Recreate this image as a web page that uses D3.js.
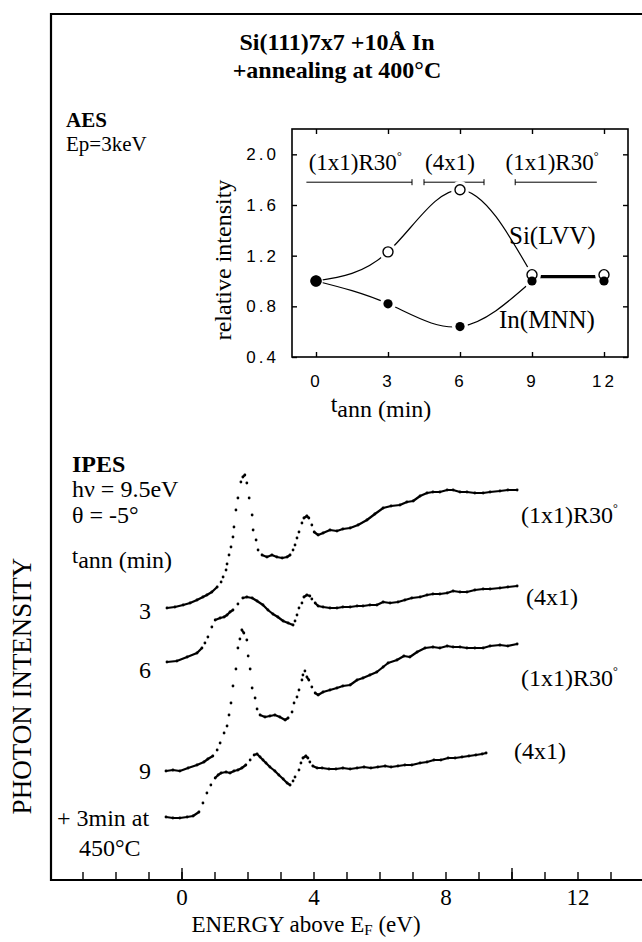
<!DOCTYPE html>
<html>
<head>
	<meta charset="utf-8">
	<script src="https://cdnjs.cloudflare.com/ajax/libs/d3/7.8.5/d3.min.js"></script>
	<style>
	body {
		margin: 0;
		background: #fff;
	}
	svg {
		display: block;
	}
	text {
		font-family: "Liberation Serif", "Times New Roman", serif;
	}
	.frame, .box {
		fill: none;
		stroke: #000;
	}
	.axis path {
		display: none;
	}
	.axis line {
		stroke: #000;
		stroke-width: 1.4px;
	}
	.aes-tick text {
		font-family: "Liberation Sans", Arial, sans-serif;
		font-size: 17px;
		letter-spacing: 3px;
	}
	.spec-line {
		fill: none;
		stroke: #000;
		stroke-width: 2.2px;
		stroke-linecap: round;
		stroke-linejoin: round;
	}
	</style>
</head>
<body>
	<svg width="642" height="942"></svg>
	<script>
	// ---------- AES inset data ----------
	let tann = [0, 3, 6, 9, 12];
	let siLVV = [1.0, 1.23, 1.72, 1.05, 1.05];
	let inMNN = [1.0, 0.82, 0.64, 1.0, 1.0];
	let aesYTicks = [0.4, 0.8, 1.2, 1.6, 2.0];
	let aesXTicks = [0, 3, 6, 9, 12];
	let phaseLabels = ["(1x1)R30", "(4x1)", "(1x1)R30"];
	let phaseFrom = [-0.4, 4.5, 8.3];
	let phaseTo = [4.0, 7.0, 11.7];
	let phaseLevel = 1.78;

	// ---------- IPES spectra (energy eV, intensity arb. units incl. offset) ----------
	let spec3 = [[-0.44,27.2],[-0.20,27.3],[0.05,27.5],[0.26,27.7],[0.47,28.0],[0.65,28.3],[0.77,28.5],[0.92,28.8],[1.08,29.3],[1.20,29.8],[1.26,30.3],[1.35,31.0],[1.38,31.6],[1.44,32.5],[1.50,33.3],[1.56,34.3],[1.59,35.3],[1.65,37.0],[1.71,38.2],[1.80,39.8],[1.86,40.3],[1.92,40.5],[1.98,39.7],[2.05,38.2],[2.14,36.5],[2.17,35.0],[2.26,34.0],[2.32,33.0],[2.44,32.5],[2.59,32.3],[2.74,32.5],[2.89,32.3],[3.05,32.2],[3.20,32.3],[3.29,32.5],[3.38,33.0],[3.44,33.5],[3.50,34.2],[3.56,34.8],[3.65,35.7],[3.71,36.2],[3.80,36.4],[3.86,36.2],[3.95,35.5],[4.02,34.8],[4.14,34.5],[4.29,34.7],[4.50,35.0],[4.71,34.9],[4.89,35.1],[5.11,35.2],[5.35,35.5],[5.62,36.0],[5.86,36.6],[6.11,37.2],[6.35,37.4],[6.62,37.5],[6.83,37.8],[7.02,37.9],[7.23,38.4],[7.44,38.7],[7.62,38.8],[7.83,38.8],[8.05,39.0],[8.23,39.0],[8.44,38.8],[8.65,38.8],[8.89,38.7],[9.14,38.7],[9.35,38.8],[9.65,38.9],[9.89,39.0],[10.17,39.0]];
	let spec6 = [[-0.44,21.8],[-0.14,21.9],[0.17,22.3],[0.47,22.7],[0.62,23.2],[0.71,23.7],[0.80,24.3],[0.92,25.3],[1.02,26.0],[1.17,26.2],[1.29,26.3],[1.38,26.5],[1.47,26.8],[1.56,27.0],[1.71,27.6],[1.86,28.2],[1.98,28.3],[2.14,28.2],[2.29,27.9],[2.47,27.5],[2.62,27.0],[2.77,26.6],[2.92,26.3],[3.08,25.9],[3.23,25.7],[3.38,25.5],[3.44,25.9],[3.50,26.5],[3.56,27.2],[3.65,27.7],[3.71,28.3],[3.80,28.5],[3.89,28.4],[3.95,28.1],[4.05,27.7],[4.14,27.4],[4.29,27.3],[4.50,27.2],[4.71,27.2],[4.89,27.3],[5.11,27.3],[5.32,27.4],[5.50,27.4],[5.71,27.5],[5.92,27.5],[6.11,27.8],[6.32,27.7],[6.56,27.8],[6.77,28.0],[6.98,28.2],[7.23,28.3],[7.44,28.5],[7.62,28.6],[7.83,28.6],[8.05,28.7],[8.23,28.9],[8.44,28.8],[8.65,28.8],[8.89,29.0],[9.14,29.1],[9.35,29.1],[9.65,29.2],[9.89,29.3],[10.17,29.4]];
	let spec9 = [[-0.47,10.9],[-0.26,11.0],[-0.05,10.9],[0.20,11.2],[0.47,11.5],[0.68,11.8],[0.80,12.1],[0.95,12.4],[1.08,13.0],[1.17,13.7],[1.29,14.7],[1.38,15.4],[1.44,16.5],[1.50,17.7],[1.56,19.4],[1.65,21.1],[1.71,23.2],[1.77,24.1],[1.83,25.0],[1.89,24.7],[1.98,24.0],[2.02,22.4],[2.08,21.1],[2.14,19.2],[2.23,18.2],[2.29,17.1],[2.38,16.5],[2.53,16.3],[2.68,16.4],[2.83,16.5],[2.98,16.3],[3.14,16.0],[3.23,16.2],[3.35,16.8],[3.41,17.7],[3.50,18.3],[3.56,19.0],[3.65,20.0],[3.68,20.5],[3.74,20.9],[3.80,20.3],[3.86,20.0],[3.95,19.3],[4.05,18.7],[4.14,18.5],[4.29,18.8],[4.50,19.0],[4.71,19.2],[4.89,19.4],[5.11,19.5],[5.32,20.0],[5.50,20.2],[5.71,20.5],[5.92,20.8],[6.11,21.3],[6.26,21.7],[6.53,22.0],[6.74,22.4],[6.92,22.3],[7.14,22.8],[7.38,23.2],[7.62,23.3],[7.83,23.2],[8.05,23.4],[8.23,23.3],[8.44,23.3],[8.65,23.2],[8.89,23.2],[9.14,23.2],[9.35,23.4],[9.65,23.5],[9.89,23.4],[10.17,23.6]];
	let spec450 = [[-0.47,6.3],[-0.26,6.2],[-0.05,6.2],[0.17,6.3],[0.35,6.4],[0.53,6.8],[0.65,7.7],[0.77,8.7],[0.89,9.5],[1.02,10.2],[1.11,10.5],[1.20,10.7],[1.35,10.8],[1.47,10.7],[1.59,10.9],[1.71,11.0],[1.83,11.2],[1.95,11.5],[2.08,12.0],[2.20,12.5],[2.29,12.6],[2.38,12.3],[2.47,12.0],[2.56,11.7],[2.68,11.3],[2.83,10.9],[2.95,10.5],[3.08,10.1],[3.20,9.7],[3.29,9.5],[3.38,9.9],[3.44,10.3],[3.56,11.0],[3.62,11.7],[3.68,12.2],[3.77,12.4],[3.83,12.2],[3.89,11.8],[3.98,11.4],[4.11,11.2],[4.26,11.2],[4.47,11.1],[4.68,11.1],[4.89,11.2],[5.11,11.1],[5.32,11.2],[5.53,11.3],[5.74,11.2],[5.95,11.3],[6.17,11.4],[6.35,11.3],[6.56,11.4],[6.77,11.5],[6.98,11.5],[7.23,11.7],[7.44,11.8],[7.65,12.0],[7.86,12.0],[8.08,12.2],[8.29,12.2],[8.50,12.3],[8.71,12.4],[8.92,12.5],[9.11,12.6],[9.23,12.7]];
	let spectra = [spec3, spec6, spec9, spec450];
	let specStructure = ["(1x1)R30", "(4x1)", "(1x1)R30", "(4x1)"];
	let energyTicks = [-3, -2, -1, 0, 1, 2, 3, 4, 5, 6, 7, 8, 9, 10, 11, 12, 13];
	let energyLongTicks = [0, 10];
	let energyLabels = [0, 4, 8, 12];

	// ---------- layout ----------
	let svg = d3.select("svg");
	let frame = {left: 51, top: 14, right: 645, bottom: 880};
	let inset = {left: 292, top: 129, right: 628, bottom: 357};

	svg.append("rect").attr("width", 642).attr("height", 942).attr("fill", "#fff");

	// title
	let title = svg.append("g")
		.attr("text-anchor", "middle")
		.style("font-weight", "bold")
		.style("font-size", "24px");
	title.append("text").attr("x", 337).attr("y", 50).text("Si(111)7x7 +10Å In");
	title.append("text").attr("x", 337).attr("y", 78).text("+annealing at 400°C");

	// outer frame
	svg.append("path")
		.attr("class", "frame")
		.attr("stroke-width", 2.2)
		.attr("d", "M" + frame.right + "," + frame.top + "H" + frame.left + "V" + frame.bottom + "H" + frame.right);

	// ================= AES inset =================
	let ax = d3.scaleLinear().domain([-1, 13]).range([inset.left, inset.right]);
	let ay = d3.scaleLinear().domain([0.4, 2.2]).range([inset.bottom, inset.top]);

	svg.append("text").attr("x", 66).attr("y", 127)
		.style("font-weight", "bold").style("font-size", "21px").text("AES");
	svg.append("text").attr("x", 66).attr("y", 151)
		.style("font-size", "21px").text("Ep=3keV");

	svg.append("rect")
		.attr("class", "box")
		.attr("stroke-width", 1.6)
		.attr("x", inset.left).attr("y", inset.top)
		.attr("width", inset.right - inset.left)
		.attr("height", inset.bottom - inset.top);

	// ticks on all four sides, pointing inwards
	svg.append("g")
		.attr("class", "axis aes-tick")
		.attr("transform", "translate(0," + inset.bottom + ")")
		.call(d3.axisBottom(ax).tickValues(aesXTicks).tickSize(-5).tickPadding(18));
	svg.append("g")
		.attr("class", "axis")
		.attr("transform", "translate(0," + inset.top + ")")
		.call(d3.axisTop(ax).tickValues(aesXTicks).tickSize(-5).tickFormat(""));
	svg.append("g")
		.attr("class", "axis aes-tick")
		.attr("transform", "translate(" + inset.left + ",0)")
		.call(d3.axisLeft(ay).tickValues(aesYTicks).tickSize(-5).tickPadding(13).tickFormat(d3.format(".1f")));
	svg.append("g")
		.attr("class", "axis")
		.attr("transform", "translate(" + inset.right + ",0)")
		.call(d3.axisRight(ay).tickValues(aesYTicks).tickSize(-5).tickFormat(""));

	// axis titles
	svg.append("text")
		.attr("transform", "translate(231,260) rotate(-90)")
		.attr("text-anchor", "middle")
		.style("font-size", "24px")
		.text("relative  intensity");
	let tl = svg.append("text")
		.attr("x", 381).attr("y", 417)
		.attr("text-anchor", "middle")
		.style("font-size", "24px");
	tl.append("tspan").attr("dy", -5).text("t");
	tl.append("tspan").attr("dy", 5).text("ann (min)");

	// reconstruction phases
	let phases = svg.append("g").selectAll("g")
		.data(phaseLabels)
		.enter().append("g");
	phases.append("line")
		.attr("x1", function(d, i) { return ax(phaseFrom[i]); })
		.attr("x2", function(d, i) { return ax(phaseTo[i]); })
		.attr("y1", ay(phaseLevel)).attr("y2", ay(phaseLevel))
		.attr("stroke", "#000").attr("stroke-width", 1);
	phases.filter(function(d, i) { return i > 0; }).append("line")
		.attr("x1", function(d, i) { return ax(phaseFrom[i + 1]); })
		.attr("x2", function(d, i) { return ax(phaseFrom[i + 1]); })
		.attr("y1", ay(phaseLevel) - 3).attr("y2", ay(phaseLevel) + 3)
		.attr("stroke", "#000").attr("stroke-width", 1);
	phases.filter(function(d, i) { return i < 2; }).append("line")
		.attr("x1", function(d, i) { return ax(phaseTo[i]); })
		.attr("x2", function(d, i) { return ax(phaseTo[i]); })
		.attr("y1", ay(phaseLevel) - 3).attr("y2", ay(phaseLevel) + 3)
		.attr("stroke", "#000").attr("stroke-width", 1);
	let phaseText = phases.append("text")
		.attr("x", function(d, i) { return ax((phaseFrom[i] + phaseTo[i]) / 2) - 4; })
		.attr("y", ay(phaseLevel) - 12)
		.attr("text-anchor", "middle")
		.style("font-size", "23px");
	phaseText.append("tspan").text(function(d) { return d; });
	phaseText.filter(function(d) { return d.indexOf("R30") >= 0; })
		.append("tspan").attr("dy", -10).style("font-size", "12px").text("°");

	// curves
	let curvePts = function(vals) { return tann.slice(0, 4).map(function(t, i) { return [ax(t), ay(vals[i])]; }); };
	let aesLine = d3.line().curve(d3.curveNatural);
	svg.append("path").attr("d", aesLine(curvePts(siLVV)))
		.attr("fill", "none").attr("stroke", "#000").attr("stroke-width", 1.2);
	svg.append("path").attr("d", aesLine(curvePts(inMNN)))
		.attr("fill", "none").attr("stroke", "#000").attr("stroke-width", 1.2);
	svg.append("line")
		.attr("x1", ax(tann[3])).attr("x2", ax(tann[4]))
		.attr("y1", ay(siLVV[3]) + 2).attr("y2", ay(siLVV[4]) + 2)
		.attr("stroke", "#000").attr("stroke-width", 3.2);

	// white halo so the lines stop short of the markers
	let halo = svg.append("g").attr("fill", "#fff");
	halo.selectAll(".hs").data(siLVV).enter().append("circle")
		.attr("cx", function(d, i) { return ax(tann[i]); })
		.attr("cy", function(d) { return ay(d); })
		.attr("r", function(d, i) { return i === 0 ? 0 : 9; });
	halo.selectAll(".hi").data(inMNN).enter().append("circle")
		.attr("cx", function(d, i) { return ax(tann[i]); })
		.attr("cy", function(d) { return ay(d); })
		.attr("r", function(d, i) { return i === 0 ? 7 : 8; });

	svg.append("g").selectAll("circle").data(siLVV).enter().append("circle")
		.attr("cx", function(d, i) { return ax(tann[i]); })
		.attr("cy", function(d) { return ay(d); })
		.attr("r", 5)
		.attr("fill", "#fff").attr("stroke", "#000").attr("stroke-width", 1.4);
	svg.append("g").selectAll("circle").data(inMNN).enter().append("circle")
		.attr("cx", function(d, i) { return ax(tann[i]); })
		.attr("cy", function(d) { return ay(d); })
		.attr("r", function(d, i) { return i === 0 ? 5.5 : 4.6; })
		.attr("fill", "#000");

	svg.append("text").attr("x", 509).attr("y", 244).style("font-size", "25px").text("Si(LVV)");
	svg.append("text").attr("x", 499).attr("y", 328).style("font-size", "25px").text("In(MNN)");

	// ================= IPES spectra =================
	let x = d3.scaleLinear().domain([0, 12]).range([181.5, 577.5]);
	let y = d3.scaleLinear().domain([0, 86.6]).range([frame.bottom, frame.top]);

	svg.append("g")
		.attr("class", "axis")
		.attr("transform", "translate(0," + frame.bottom + ")")
		.call(d3.axisBottom(x).tickValues(energyTicks).tickSize(-8).tickFormat(""));
	svg.append("g")
		.attr("class", "axis")
		.attr("transform", "translate(0," + frame.bottom + ")")
		.call(d3.axisBottom(x).tickValues(energyLongTicks).tickSize(-12).tickFormat(""));
	svg.append("g")
		.attr("class", "axis")
		.attr("transform", "translate(0," + frame.bottom + ")")
		.call(d3.axisBottom(x).tickValues(energyLabels).tickSize(0).tickPadding(9))
		.selectAll("text")
		.style("font-size", "23px");

	let xt = svg.append("text")
		.attr("x", 306).attr("y", 932)
		.attr("text-anchor", "middle")
		.style("font-size", "23px");
	xt.append("tspan").text("ENERGY above E");
	xt.append("tspan").attr("dy", 3).style("font-size", "15px").text("F");
	xt.append("tspan").attr("dy", -3).text("  (eV)");

	svg.append("text")
		.attr("transform", "translate(31,686) rotate(-90)")
		.attr("text-anchor", "middle")
		.style("font-size", "27px")
		.text("PHOTON INTENSITY");

	// left annotations
	let ipes = svg.append("g").style("font-size", "24px");
	ipes.append("text").attr("x", 72).attr("y", 472).style("font-weight", "bold").text("IPES");
	ipes.append("text").attr("x", 72).attr("y", 497).text("hν = 9.5eV");
	ipes.append("text").attr("x", 72).attr("y", 523).text("θ = -5°");
	let tm = ipes.append("text").attr("x", 72).attr("y", 568);
	tm.append("tspan").attr("dy", -5).style("font-size", "22px").text("t");
	tm.append("tspan").attr("dy", 5).text("ann (min)");

	let leftLabels = [["3"], ["6"], ["9"], ["+ 3min at", "450°C"]];
	let leftPos = [[151, 619, "end"], [151, 678, "end"], [151, 779, "end"], [57, 826, "start"]];
	leftLabels.forEach(function(lines, i) {
		lines.forEach(function(s, j) {
			ipes.append("text")
				.attr("x", leftPos[i][0] + j * 22)
				.attr("y", leftPos[i][1] + j * 30)
				.attr("text-anchor", leftPos[i][2])
				.text(s);
		});
	});

	// right annotations
	let rightPos = [[521, 523], [526, 605], [521, 686], [514, 759]];
	specStructure.forEach(function(s, i) {
		let t = svg.append("text")
			.attr("x", rightPos[i][0]).attr("y", rightPos[i][1])
			.style("font-size", "24px");
		t.append("tspan").text(s);
		if (s.indexOf("R30") >= 0) {
			t.append("tspan").attr("dy", -11).style("font-size", "12px").text("°");
		}
	});

	// spectra: gentle stretches are joined, steep stretches stay as separate dots
	let specLine = d3.line().x(function(d) { return x(d[0]); }).y(function(d) { return y(d[1]); });
	let joined = function(a, b) {
		let dx = Math.abs(x(b[0]) - x(a[0])), dy = Math.abs(y(b[1]) - y(a[1]));
		return dy <= 3 || dy <= 1.1 * dx;
	};
	spectra.forEach(function(spec) {
		let segs = [], cur = [spec[0]];
		for (let i = 1; i < spec.length; i++) {
			if (!joined(spec[i - 1], spec[i])) {
				segs.push(cur);
				cur = [];
			}
			cur.push(spec[i]);
		}
		segs.push(cur);
		let g = svg.append("g");
		g.selectAll("path").data(segs.filter(function(s) { return s.length > 1; }))
			.enter().append("path")
			.attr("class", "spec-line")
			.attr("d", specLine);
		g.selectAll("circle").data(spec).enter().append("circle")
			.attr("cx", function(d) { return x(d[0]); })
			.attr("cy", function(d) { return y(d[1]); })
			.attr("r", 1.4)
			.attr("fill", "#000");
	});
	</script>
</body>
</html>
